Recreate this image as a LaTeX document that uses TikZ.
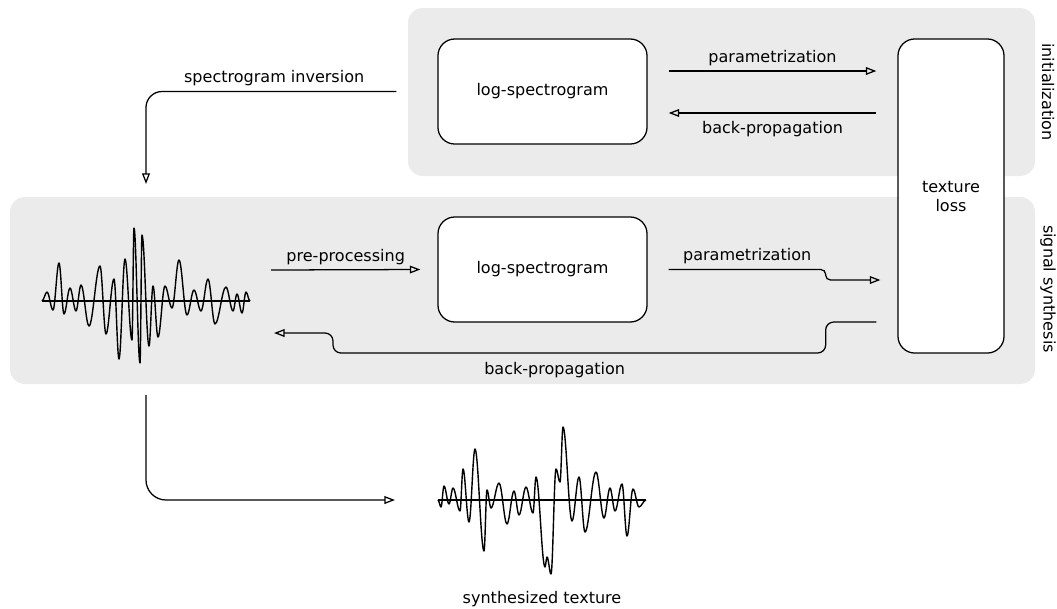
\documentclass[tikz,border=0pt]{standalone}
\usepackage{fontspec}
\setmainfont{DejaVu Sans}
\usepackage{tikz}
\usetikzlibrary{calc}
\usetikzlibrary{arrows.meta}
\definecolor{panelgray}{RGB}{235,235,235}
\tikzset{every edge/.style={draw, line width=0.9pt}}

% waveform through a list of extrema, cosine-like halves
\newcommand{\wavepath}[2]{%
  \draw[wave] (#1,0)
    \foreach \wx/\wy [remember=\wx as \lx (initially #1), remember=\wy as \ly (initially 0)] in {#2} {
      .. controls ({\lx+0.36*(\wx-(\lx))},\ly) and ({\wx-0.36*(\wx-(\lx))},\wy) .. (\wx,\wy)
    };
}

\begin{document}
\begin{tikzpicture}[x=0.025cm, y=-0.025cm, every node/.style={font=\fontsize{11.4}{13.5}\selectfont},
  box/.style={draw, fill=white, line width=0.9pt, rounded corners=0.42cm, inner sep=0pt},
  arr/.style={draw, line width=0.9pt, -{Triangle[open, length=7.5pt, width=5.5pt]}},
  wave/.style={line width=1pt, line join=round},
  panel/.style={fill=panelgray, rounded corners=0.375cm}]
  \useasboundingbox (0,0) rectangle (1057,608);

  % panels
  \fill[panel] (408,8) rectangle (1035,176);
  \fill[panel] (10,197) rectangle (1035,384);

  \node[box, minimum width=5.225cm, minimum height=2.625cm] (logtop) at (542.5,91.5) {log-spectrogram};
  \node[box, minimum width=5.225cm, minimum height=2.625cm] (logbot) at (542.5,269.5) {log-spectrogram};
  \node[box, minimum width=2.65cm, minimum height=7.85cm, align=center] (loss) at (951,196) {texture\\loss};
  \node[rotate=-90] (initlabel) at (1048,92) {initialization};
  \node[rotate=-90] (synthlabel) at (1048,289) {signal synthesis};
  \coordinate (wavein) at (146,301);
  \coordinate (waveout) at (542,500);
  \node (outlabel) at (542,599) {synthesized texture};

  % initialization
  \draw[arr, shorten <=0.525cm, shorten >=0.525cm] (logtop.east |- 0,71) -- node[above] {parametrization} (loss.west |- 0,71);
  \draw[arr, shorten <=0.525cm, shorten >=0.525cm] (loss.west |- 0,113) -- node[below=0.08cm] {back-propagation} (logtop.east |- 0,113);
  \draw[arr, rounded corners=0.4cm, shorten <=1.025cm] (logtop.west) -| node[pos=0.28, above] {spectrogram inversion} ($(wavein)+(0,-117)$);

  % signal synthesis
  \draw[arr] ($(wavein)+(125,-31)$) -- node[above] {pre-processing} ($(logbot.west)+(-17,0)$);
  \draw[arr, rounded corners=0.12cm] ($(logbot.east)+(21,0)$) -- node[above] {parametrization} ($(logbot.east)+(178,0)$) |- ($(loss.west)+(-17,84)$);
  \draw[arr, rounded corners=0.2cm] ($(loss.west)+(-21,126)$) -| ($(logbot.east)+(178,83.5)$) -- node[pos=0.55, below=0.1cm] {back-propagation} ($(wavein)+(187,52)$) |- ($(wavein)+(128,32)$);

  % output
  \draw[arr, rounded corners=0.5cm] ($(wavein)+(0,94)$) |- ($(waveout)+(-147,0)$);

  % waveforms
  \begin{scope}[shift={(wavein)}]
    \draw[wave] (-104,0) -- (104,0);
    \wavepath{-104}{-99/-9, -93/9, -87/-38, -82/13, -76/-13, -70/10, -65/-16, -57/25, -46/-35, -40/33, -32/-22, -27/58, -21/-42, -14/39, -12/-73, -6/62, -4/-66, 3/45, 7/-15, 12/36, 19/-15, 26/7, 33/-41, 41/14, 48/-11, 55/10, 62/-22, 69/23, 80/-14, 87/10, 91/-7, 96/12, 100/-9, 104/0}
  \end{scope}
  \begin{scope}[shift={(waveout)}]
    \draw[wave] (-104,0) -- (104,0);
    \wavepath{-104}{-101/7, -98/-14, -93/4, -89/-12, -82/11, -79/-31, -73/22, -67/-51, -58/51, -55/-10, -51/8, -43/-17, -35/24, -28/-9, -23/15, -16/-13, -9/13, -6/-23, 3/67, 5/57, 9/74, 14/-31, 18/-18, 21/-73, 30/21, 37/-23, 43/32, 54/-28, 62/18, 68/-12, 73/11, 80/-16, 85/36, 91/-11, 97/7, 104/0}
  \end{scope}
\end{tikzpicture}
\end{document}
